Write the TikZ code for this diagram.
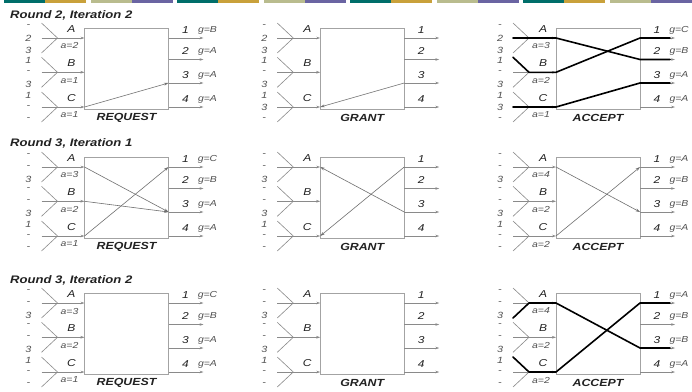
\documentclass[tikz,border=0pt]{standalone}
\usepackage{fontspec}
\setmainfont{Liberation Sans}
\newfontfamily\wsans[FakeStretch=1.2]{Liberation Sans}
\usetikzlibrary{arrows.meta}
\definecolor{barteal}{HTML}{006E6A}
\definecolor{bargold}{HTML}{C9A13B}
\definecolor{barolive}{HTML}{B9BC8E}
\definecolor{barpurple}{HTML}{6A64A2}
\definecolor{linegray}{HTML}{8A8A8A}
\definecolor{boxgray}{HTML}{A3A3A3}
\definecolor{reqgray}{HTML}{707070}
\definecolor{txt}{HTML}{222222}
\definecolor{subtxt}{HTML}{505050}
\tikzset{
  box/.style={draw=boxgray, line width=0.9pt, minimum width=84pt, minimum height=81.5pt, inner sep=0pt, fill=white},
  fanline/.style={draw=linegray, line width=0.6pt},
  inarrow/.style={fanline, -{Stealth[length=4pt,width=2.6pt]}},
  reqline/.style={draw=reqgray, line width=0.6pt, -{Stealth[length=4.5pt,width=2.8pt]}},
  heavy/.style={draw=black, line width=1.6pt, line join=round, line cap=round},
  title/.style={font=\wsans\bfseries\itshape\fontsize{10.9}{12}\selectfont, text=txt, anchor=west, inner sep=0pt},
  boxlabel/.style={font=\wsans\bfseries\itshape\fontsize{10.3}{12}\selectfont, text=txt, inner sep=0pt},
  portlbl/.style={font=\wsans\itshape\fontsize{10}{11}\selectfont, text=txt, inner sep=0pt},
  numlbl/.style={font=\wsans\itshape\fontsize{9}{10}\selectfont, text=subtxt, inner sep=0pt},
  sublbl/.style={font=\wsans\itshape\fontsize{8.7}{10}\selectfont, text=subtxt, inner sep=0pt},
}
\newcommand\nums[2]{\foreach \pt/\t in {#2}{\node[numlbl] (N#1\pt) at (P#1-N\pt) {\t};}}
\newcommand\alabels[4]{%
  \node[sublbl] (a#1A) at (P#1-aA) {a=#2};
  \node[sublbl] (a#1B) at (P#1-aB) {a=#3};
  \node[sublbl] (a#1C) at (P#1-aC) {a=#4};}
\newcommand\glabels[5]{%
  \node[sublbl] (g#11) at (P#1-g1) {g=#2};
  \node[sublbl] (g#12) at (P#1-g2) {g=#3};
  \node[sublbl] (g#13) at (P#1-g3) {g=#4};
  \node[sublbl] (g#14) at (P#1-g4) {g=#5};}
\begin{document}
\begin{tikzpicture}[x=1pt,y=-1pt]
\useasboundingbox (0,0) rectangle (692,391);
\fill[white] (0,0) rectangle (692,391);
% top colour bar
\foreach \i in {0,...,7}{
  \pgfmathsetmacro\s{86.5*\i+4.4}
  \ifodd\i
    \fill[barolive] (\s,0) rectangle (\s+41,2.5);
    \fill[barpurple] (\s+41,0) rectangle (\s+82,2.5);
  \else
    \fill[barteal] (\s,0) rectangle (\s+41,2.5);
    \fill[bargold] (\s+41,0) rectangle (\s+82,2.5);
  \fi
}
% titles
\node[title] (title0) at (10,15) {Round 2, Iteration 2};
\node[title] (title1) at (10,143) {Round 3, Iteration 1};
\node[title] (title2) at (10,280) {Round 3, Iteration 2};
% panels
\foreach \r/\Y in {0/28,1/157,2/293}{
 \foreach \c in {0,1,2}{
  \pgfmathsetmacro{\X}{84.5+235.75*\c}
  \node[box] (B\r\c) at (\X+42,\Y+40.75) {};
  \node[boxlabel] (T\r\c) at (\X+42,\Y+90) {\ifcase\c REQUEST\or GRANT\or ACCEPT\fi};
  \foreach \k/\dy in {A/10,B/44.3,C/79}{
    \coordinate (P\r\c-I\k) at (\X,\Y+\dy);
    \coordinate (P\r\c-F\k) at (\X-27,\Y+\dy);
    \coordinate (P\r\c-U\k) at (\X-43,\Y+\dy-15);
    \coordinate (P\r\c-M\k) at (\X-43,\Y+\dy);
    \coordinate (P\r\c-L\k) at (\X-43,\Y+\dy+15);
    \coordinate (P\r\c-NU\k) at (\X-56,\Y+\dy-12);
    \coordinate (P\r\c-NM\k) at (\X-56,\Y+\dy);
    \coordinate (P\r\c-NL\k) at (\X-56,\Y+\dy+12.5);
    \coordinate (P\r\c-a\k) at (\X-15,\Y+\dy+8);
    \draw[fanline] (P\r\c-U\k) -- (P\r\c-F\k) -- (P\r\c-L\k);
    \draw[inarrow] (P\r\c-M\k) -- (P\r\c-I\k);
    \node[portlbl] (P\r\c-t\k) at (\X-13,\Y+\dy-9) {\k};
  }
  \foreach \k/\dy in {1/10,2/31.5,3/55,4/79}{
    \coordinate (P\r\c-O\k) at (\X+84,\Y+\dy);
    \coordinate (P\r\c-H\k) at (\X+114,\Y+\dy);
    \coordinate (P\r\c-E\k) at (\X+119,\Y+\dy);
    \coordinate (P\r\c-g\k) at (\X+123,\Y+\dy-8);
    \draw[inarrow] (P\r\c-O\k) -- (P\r\c-E\k);
    \node[portlbl] (P\r\c-t\k) at (\X+101,\Y+\dy-8) {\k};
  }
 }
}
% left numbers
\nums{00}{UA/-,MA/2,LA/3,UB/1,MB/-,LB/3,UC/1,MC/-,LC/-}
\nums{01}{UA/-,MA/2,LA/3,UB/1,MB/-,LB/3,UC/1,MC/3,LC/-}
\nums{02}{UA/-,MA/2,LA/3,UB/1,MB/-,LB/3,UC/1,MC/3,LC/-}
\foreach \p in {10,11,12,20,21,22}{
  \nums{\p}{UA/-,MA/-,LA/3,UB/-,MB/-,LB/3,UC/1,MC/-,LC/-}
}
% a= and g= labels
\alabels{00}{2}{1}{1} \glabels{00}{B}{A}{A}{A}
\alabels{02}{3}{2}{1} \glabels{02}{C}{B}{A}{A}
\alabels{10}{3}{2}{1} \glabels{10}{C}{B}{A}{A}
\alabels{12}{4}{2}{2} \glabels{12}{A}{B}{B}{A}
\alabels{20}{3}{2}{1} \glabels{20}{C}{B}{A}{A}
\alabels{22}{4}{2}{2} \glabels{22}{A}{B}{B}{A}
% Round 2, Iteration 2
\draw[reqline] (P00-IC) -- (P00-O3);
\draw[reqline] (P01-O3) -- (P01-IC);
\draw[heavy] (P02-MA) -- (P02-IA) -- (P02-O2) -- (P02-H2);
\draw[heavy] (P02-UB) -- (P02-FB) -- (P02-IB) -- (P02-O1) -- (P02-H1);
\draw[heavy] (P02-MC) -- (P02-IC) -- (P02-O3) -- (P02-H3);
% Round 3, Iteration 1
\draw[reqline] (P10-IA) -- (P10-O3);
\draw[reqline] (P10-IB) -- (P10-O3);
\draw[reqline] (P10-IC) -- (P10-O1);
\draw[reqline] (P11-O3) -- (P11-IA);
\draw[reqline] (P11-O1) -- (P11-IC);
\draw[reqline] (P12-IA) -- (P12-O3);
\draw[reqline] (P12-IC) -- (P12-O1);
% Round 3, Iteration 2
\draw[heavy] (P22-LA) -- (P22-FA) -- (P22-IA) -- (P22-O3) -- (P22-H3);
\draw[heavy] (P22-UC) -- (P22-FC) -- (P22-IC) -- (P22-O1) -- (P22-H1);
\end{tikzpicture}
\end{document}
